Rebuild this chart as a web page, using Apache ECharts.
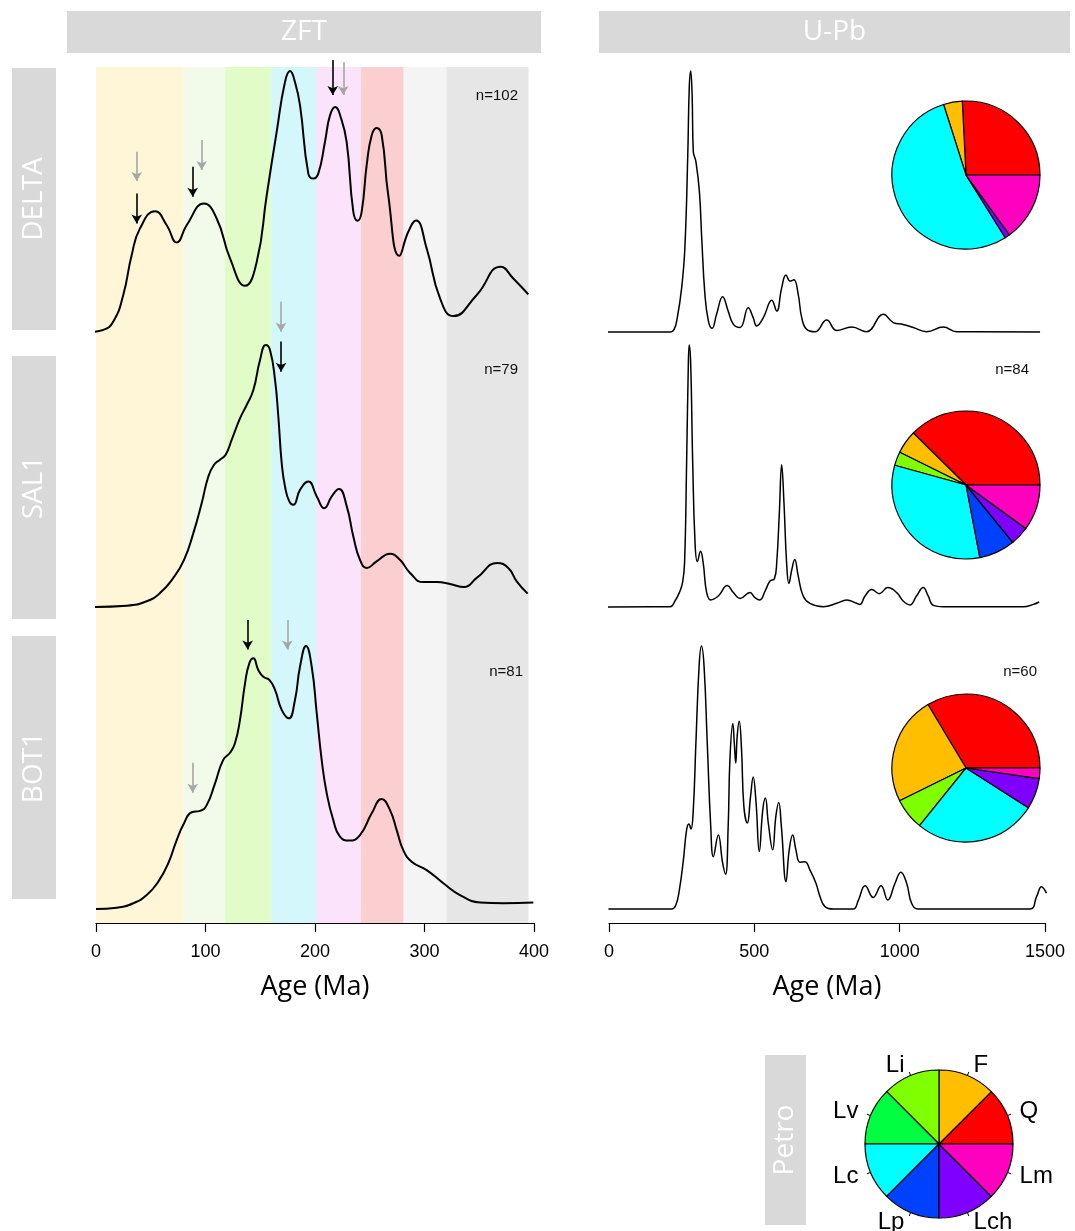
<!DOCTYPE html>
<html>
<head>
<meta charset="utf-8">
<script src="https://cdn.jsdelivr.net/npm/echarts@6/dist/echarts.min.js"></script>
<style>html,body{margin:0;padding:0;background:#fff}#c{width:1075px;height:1231px}</style>
</head>
<body>
<div id="c"></div>
<script>
// ---------------- DATA ----------------
const samples = ['DELTA', 'SAL1', 'BOT1'];
const zftN = [102, 79, 81];
const upbN = [null, 84, 60];

// time bands behind ZFT (Ma)
const bandEdges = [0, 80, 118, 160, 201, 242, 281, 320, 395];

// ZFT densities [age (Ma), relative density]
const zftDelta = [[-5.5,0],[6.7,0.008],[15.8,0.040],[24.9,0.142],[32.6,0.295],[40.2,0.397],[53.9,0.463],[64.6,0.409],[73.7,0.343],[82.8,0.409],[98.6,0.492],[110.2,0.435],[122.4,0.282],[136.1,0.177],[146.8,0.269],[155.9,0.524],[165,0.767],[172.6,0.958],[177.2,1.0],[181.7,0.958],[186.3,0.869],[193.9,0.607],[198.4,0.588],[203,0.607],[209.1,0.728],[213.7,0.830],[218.5,0.862],[223.4,0.824],[228.9,0.728],[235,0.46],[239,0.426],[242.6,0.46],[247.2,0.639],[251.8,0.754],[256.3,0.782],[260.9,0.754],[266.9,0.524],[277,0.292],[285.2,0.384],[292.2,0.427],[302,0.320],[314.2,0.129],[326.3,0.061],[347.7,0.142],[369.6,0.250],[381.1,0.205],[394.8,0.144]];
const zftSal1 = [[-6.1,0],[28,0.005],[46.3,0.022],[58.4,0.053],[70.6,0.111],[80.4,0.180],[88.9,0.282],[96.5,0.396],[102.6,0.498],[107.8,0.543],[113.2,0.562],[118.4,0.581],[123.9,0.638],[131.5,0.720],[137.6,0.771],[143.7,0.828],[149.8,0.943],[155,1.0],[158.9,0.981],[163.5,0.867],[166.5,0.727],[169.6,0.549],[172.6,0.460],[176.5,0.403],[180.2,0.390],[186.3,0.447],[193.9,0.479],[201.6,0.422],[208.5,0.377],[215.3,0.422],[221.9,0.450],[229,0.384],[235,0.269],[241.1,0.180],[247.2,0.149],[256.3,0.174],[268.5,0.203],[277.6,0.180],[286.8,0.130],[298.9,0.095],[311.1,0.095],[323.3,0.088],[336.1,0.076],[347.7,0.111],[366.5,0.168],[376.5,0.149],[384.2,0.098],[394.2,0.051]];
const zftBot1 = [[0,0],[18.9,0.005],[34.1,0.022],[46.3,0.053],[56.9,0.104],[66,0.174],[73.7,0.262],[80.4,0.326],[87.4,0.368],[95,0.373],[101.1,0.395],[108.7,0.478],[116.2,0.567],[122.4,0.594],[126.9,0.630],[131.5,0.719],[136.1,0.858],[140,0.934],[143.7,0.953],[148.2,0.909],[152.8,0.883],[158.3,0.871],[163.5,0.833],[169.6,0.757],[176,0.725],[181.7,0.795],[186.3,0.921],[191.8,1.0],[197,0.921],[201.6,0.744],[206.1,0.567],[210.7,0.440],[216.7,0.338],[222.8,0.275],[231.3,0.260],[241.1,0.281],[251.8,0.364],[260.9,0.418],[268.5,0.376],[274.6,0.300],[280.6,0.224],[288.3,0.180],[302,0.148],[317.2,0.098],[332.4,0.053],[350.7,0.025],[372,0.022],[399.4,0.025]];

// U-Pb densities [age (Ma), relative density]
const upbDelta = [[-23,0],[210,0],[224,0.010],[235,0.055],[250,0.169],[261,0.322],[271,0.678],[276,0.933],[281,1.0],[286,0.907],[290,0.691],[299,0.653],[311,0.538],[319,0.360],[330,0.144],[342,0.042],[355,0.014],[370,0.068],[391,0.135],[410,0.080],[428,0.029],[451,0.017],[479,0.093],[496,0.055],[508,0.023],[531,0.055],[560,0.122],[577,0.080],[594,0.169],[609,0.218],[623,0.195],[636,0.200],[651,0.144],[663,0.055],[680,0.010],[709,0.001],[749,0.046],[783,0.006],[835,0.019],[886,0.001],[944,0.068],[978,0.036],[1012,0.029],[1047,0.017],[1093,0.001],[1150,0.019],[1196,0.001],[1483,0]];
const upbSal1 = [[-25,0],[210,0.001],[227,0.023],[242,0.055],[253,0.093],[260,0.169],[267,0.549],[273,0.930],[276,1.0],[281,0.93],[288,0.549],[296,0.246],[304,0.173],[315,0.213],[324,0.169],[336,0.055],[350,0.027],[376,0.042],[407,0.082],[428,0.055],[451,0.032],[485,0.055],[502,0.036],[519,0.027],[537,0.061],[554,0.099],[569,0.108],[577,0.169],[586,0.359],[594,0.543],[602,0.397],[611,0.169],[619,0.090],[629,0.143],[639,0.181],[651,0.118],[668,0.042],[691,0.014],[737,0.001],[783,0.014],[818,0.027],[852,0.014],[863,0.010],[881,0.042],[904,0.067],[930,0.051],[959,0.074],[990,0.055],[1012,0.023],[1035,0.008],[1058,0.042],[1081,0.074],[1098,0.042],[1116,0.006],[1150,0.001],[1425,0.001],[1460,0.010],[1480,0.019]];
const upbBot1 = [[-2,0],[216,0],[230,0.015],[242,0.072],[256,0.187],[267,0.301],[275,0.323],[282,0.304],[290,0.377],[299,0.632],[310,0.924],[318,1.0],[327,0.924],[338,0.632],[350,0.314],[359,0.199],[376,0.281],[391,0.174],[401,0.132],[410,0.314],[416,0.568],[426,0.705],[431,0.632],[436,0.555],[441,0.657],[448,0.714],[456,0.606],[464,0.390],[476,0.327],[487,0.428],[496,0.502],[506,0.403],[517,0.219],[529,0.377],[538,0.422],[548,0.327],[563,0.225],[574,0.352],[584,0.405],[593,0.314],[609,0.104],[620,0.225],[632,0.281],[643,0.225],[657,0.178],[674,0.180],[691,0.149],[712,0.098],[726,0.047],[743,0.009],[772,0],[840,0],[858,0.034],[881,0.088],[909,0.044],[936,0.088],[959,0.034],[984,0.098],[1004,0.140],[1024,0.098],[1041,0.022],[1064,0],[1448,0],[1471,0.047],[1488,0.085],[1505,0.060]];

// ZFT peak arrows: [age (Ma), kind, from, to] (from/to in relative density units)
const arrowsDelta = [[37.2,'gray',0.691,0.579],[37.2,'black',0.531,0.416],[96.5,'gray',0.736,0.621],[88.3,'black',0.633,0.518],[216.2,'black',1.042,0.908],[225.8,'gray',1.034,0.908]];
const arrowsSal1 = [[169,'gray',1.165,1.051],[169,'black',1.013,0.898]];
const arrowsBot1 = [[138.5,'black',1.099,0.987],[174.7,'gray',1.099,0.987],[88.3,'gray',0.556,0.442]];

// petrography
const petroCats = ['Q','F','Li','Lv','Lc','Lp','Lch','Lm'];
const petroDelta = [0.258,0.041,0,0,0.540,0,0.011,0.150];
const petroSal1 = [0.376,0.051,0.030,0,0.323,0.079,0.041,0.100];
const petroBot1 = [0.336,0.237,0.069,0,0.2675,0,0.0675,0.023];
const petroKey = [1,1,1,1,1,1,1,1];

// ---------------- STYLE / LAYOUT ----------------
const bandColors = ['#fef6d7','#f2fae9','#e2fcc8','#d4f7fb','#fbe3fc','#fbcfd0','#f4f4f4','#e6e6e6'];
const petroColors = ['#FF0000','#FFBF00','#80FF00','#00FF40','#00FFFF','#0040FF','#8000FF','#FF00BF'];
const arrowColors = {black:'#000000', gray:'#a6a6a6'};
const rowTop = [71, 345, 646];
const rowH = [261, 262, 263];
const HEAD = 0.25;   // extra head-room above the density maximum (for arrows)
const zftLeft = 96, zftW = 438, upbLeft = 609, upbW = 436;
const pieCenters = [[966,175],[966,485],[966,768]];
const stripY = [[68,330],[356,619],[636,899]];
const AX_FONT = '"Liberation Sans", Arial, sans-serif';
const STRIP_FONT = '"Open Sans", "Noto Sans", sans-serif';

const zftCurves = [zftDelta, zftSal1, zftBot1];
const upbCurves = [upbDelta, upbSal1, upbBot1];
const arrows = [arrowsDelta, arrowsSal1, arrowsBot1];
const petro = [petroDelta, petroSal1, petroBot1];

const chart = echarts.init(document.getElementById('c'), null, {renderer:'canvas'});

const grid = [{left: zftLeft, width: zftW, top: 67, height: 856}];
const xAxis = [{gridIndex:0, type:'value', min:0, max:400, show:false}];
const yAxis = [{gridIndex:0, type:'value', min:0, max:1, show:false}];
for (let i = 0; i < 3; i++) {
  grid.push({left: zftLeft, width: zftW, top: rowTop[i] - HEAD * rowH[i], height: rowH[i] * (1 + HEAD)});
}
for (let i = 0; i < 3; i++) {
  grid.push({left: upbLeft, width: upbW, top: rowTop[i], height: rowH[i]});
}
function bottomAxis(gi, max, interval, show) {
  return {
    gridIndex: gi, type:'value', min:0, max:max, interval:interval, show:show,
    position:'bottom', offset: 14,
    splitLine:{show:false},
    axisLine:{show:true, onZero:false, lineStyle:{color:'#000', width:1.2}},
    axisTick:{show:true, length:9, lineStyle:{color:'#000', width:1.2}},
    axisLabel:{show:true, margin:20, color:'#000', fontSize:18, fontFamily:AX_FONT, formatter: v => String(v)},
    name: show ? 'Age (Ma)' : '', nameLocation:'middle', nameGap:51,
    nameTextStyle:{color:'#000', fontSize:27, fontFamily:STRIP_FONT}
  };
}
for (let i = 0; i < 3; i++) {
  xAxis.push(bottomAxis(1 + i, 400, 100, i === 2));
  yAxis.push({gridIndex:1 + i, type:'value', min:0, max:1 + HEAD, show:false});
}
for (let i = 0; i < 3; i++) {
  xAxis.push(bottomAxis(4 + i, 1500, 500, i === 2));
  yAxis.push({gridIndex:4 + i, type:'value', min:0, max:1, show:false});
}

const series = [];
// background bands
const bandData = [];
for (let k = 0; k < bandEdges.length - 1; k++) bandData.push([bandEdges[k], bandEdges[k+1]]);
series.push({
  type:'custom', xAxisIndex:0, yAxisIndex:0, silent:true, z:0,
  encode:{x:[0,1]},
  data: bandData,
  renderItem: function(params, api) {
    const p0 = api.coord([api.value(0), 1]);
    const p1 = api.coord([api.value(1), 0]);
    return {type:'rect', shape:{x:p0[0], y:p0[1], width:p1[0]-p0[0], height:p1[1]-p0[1]},
            style:{fill: bandColors[params.dataIndex]}};
  }
});

for (let i = 0; i < 3; i++) {
  series.push({
    name: samples[i] + ' ZFT', type:'line', xAxisIndex:1+i, yAxisIndex:1+i,
    data: zftCurves[i], showSymbol:false, symbol:'none', smooth:0.5,
    clip:false, z:3, silent:true,
    lineStyle:{color:'#000', width:2},
    markLine:{
      silent:true, symbolSize:[8,9], animation:false,
      label:{show:false},
      data: arrows[i].map(a => [
        {coord:[a[0], a[2]], symbol:'none', lineStyle:{color:arrowColors[a[1]], width:1.6, type:'solid'}, itemStyle:{color:arrowColors[a[1]]}},
        {coord:[a[0], a[3]], symbol:'arrow', itemStyle:{color:arrowColors[a[1]]}}
      ])
    }
  });
  series.push({
    name: samples[i] + ' U-Pb', type:'line', xAxisIndex:4+i, yAxisIndex:4+i,
    data: upbCurves[i], showSymbol:false, symbol:'none', smooth:0.45,
    clip:false, z:3, silent:true,
    lineStyle:{color:'#000', width:1.5}
  });
}

function pieData(vals) {
  const out = [];
  vals.forEach((v, k) => { if (v > 0) out.push({name: petroCats[k], value: v, itemStyle:{color: petroColors[k]}}); });
  return out;
}
for (let i = 0; i < 3; i++) {
  series.push({
    type:'pie', center: pieCenters[i], radius: 74, startAngle:0, clockwise:false,
    silent:true, z:5, label:{show:false}, labelLine:{show:false},
    itemStyle:{borderColor:'#000', borderWidth:1.2},
    data: pieData(petro[i])
  });
}
// key pie: sectors + names; label line dashed so only a short tick next to the circle shows
series.push({
  type:'pie', center:[939,1144], radius:74, startAngle:0, clockwise:false,
  silent:true, z:5, avoidLabelOverlap:false,
  itemStyle:{borderColor:'#000', borderWidth:1.2},
  label:{show:true, position:'outside', formatter:'{b}', color:'#000', fontSize:24, fontFamily:AX_FONT, distanceToLabelLine:2},
  labelLine:{show:true, length:11, length2:0, lineStyle:{color:'#000', width:1, type:[4, 40]}},
  data: pieData(petroKey)
});

// strips and n labels
const graphic = [];
function hStrip(x0, x1, text) {
  graphic.push({type:'rect', shape:{x:x0, y:11, width:x1-x0, height:42}, style:{fill:'#d9d9d9'}, z:1});
  graphic.push({type:'text', x:(x0+x1)/2, y:32, style:{text:text, fill:'#fff', font:'28px ' + STRIP_FONT, textAlign:'center', textVerticalAlign:'middle'}, z:2});
}
function vStrip(x0, x1, y0, y1, text) {
  graphic.push({type:'rect', shape:{x:x0, y:y0, width:x1-x0, height:y1-y0}, style:{fill:'#d9d9d9'}, z:1});
  graphic.push({type:'text', x:(x0+x1)/2, y:(y0+y1)/2, rotation:Math.PI/2,
    style:{text:text, fill:'#fff', font:'28px ' + STRIP_FONT, textAlign:'center', textVerticalAlign:'middle'}, z:2});
}
hStrip(67, 541, 'ZFT');
hStrip(599, 1070, 'U-Pb');
for (let i = 0; i < 3; i++) vStrip(12, 56, stripY[i][0], stripY[i][1], samples[i]);
vStrip(765, 806, 1055, 1225, 'Petro');

const nZftPos = [[518,96],[518,370],[523,672]];
const nUpbPos = [null,[1029,370],[1037,672]];
for (let i = 0; i < 3; i++) {
  graphic.push({type:'text', x:nZftPos[i][0], y:nZftPos[i][1], style:{text:'n=' + zftN[i], fill:'#111', font:'15px ' + AX_FONT, textAlign:'right', textVerticalAlign:'middle'}, z:10});
  if (upbN[i] != null) {
    graphic.push({type:'text', x:nUpbPos[i][0], y:nUpbPos[i][1], style:{text:'n=' + upbN[i], fill:'#111', font:'15px ' + AX_FONT, textAlign:'right', textVerticalAlign:'middle'}, z:10});
  }
}

chart.setOption({
  animation:false,
  backgroundColor:'#fff',
  grid: grid, xAxis: xAxis, yAxis: yAxis,
  series: series,
  graphic: graphic
});
</script>
</body>
</html>
